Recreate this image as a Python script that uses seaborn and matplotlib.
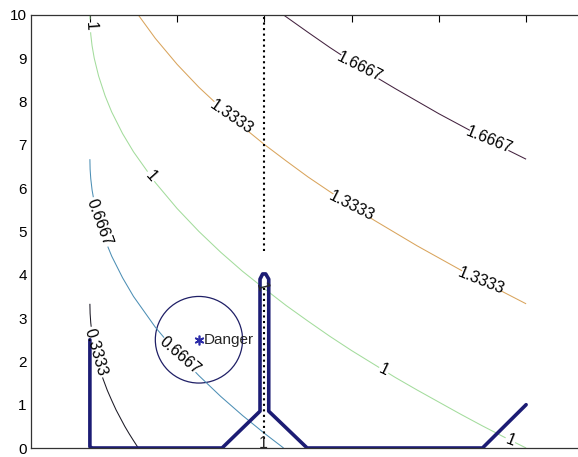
import numpy as np
import seaborn as sns
import matplotlib.pyplot as plt
from matplotlib.contour import ContourSet
from matplotlib.patches import Circle

# contour levels, labels and colours
levels = [0.3333, 0.6667, 1.0, 1.3333, 1.6667]
level_text = ["0.3333", "0.6667", "1", "1.3333", "1.6667"]
level_colors = ["#1c1a26", "#4d8fb5", "#a3dc9c", "#d9a45c", "#43223f"]

# contour lines
c0_x = [0, 0.005, 0.02, 0.05, 0.1, 0.2, 0.3, 0.4, 0.5, 0.6, 0.7, 0.8, 0.9, 1.0, 1.11]
c0_y = [3.33, 3.11, 2.89, 2.63, 2.33, 1.92, 1.60, 1.33, 1.10, 0.88, 0.69, 0.50, 0.33, 0.17, 0.0]
c1_x = [0, 0.005, 0.02, 0.05, 0.1, 0.2, 0.35, 0.5, 0.75, 1.0, 1.5, 2.0, 2.5, 3.0, 3.5, 4.0, 4.44]
c1_y = [6.67, 6.44, 6.22, 5.96, 5.67, 5.25, 4.80, 4.43, 3.93, 3.50, 2.79, 2.19, 1.67, 1.19, 0.75, 0.34, 0.0]
c2_x = [0, 0.005, 0.02, 0.05, 0.1, 0.2, 0.35, 0.5, 0.75, 1.0, 1.5, 2.0, 2.5, 3.0, 3.5, 4.0,
        4.5, 5.0, 5.5, 6.0, 6.5, 7.0, 7.5, 8.0, 8.5, 9.0, 9.5, 10.0]
c2_y = [10.0, 9.78, 9.55, 9.29, 9.0, 8.59, 8.13, 7.76, 7.26, 6.84, 6.13, 5.53, 5.0, 4.52, 4.08, 3.68,
        3.29, 2.93, 2.58, 2.25, 1.94, 1.63, 1.34, 1.06, 0.78, 0.51, 0.25, 0.0]
c3_x = [1.11, 1.5, 2.0, 2.5, 3.0, 3.5, 4.0, 4.5, 5.0, 5.5, 6.0, 6.5, 7.0, 7.5, 8.0, 8.5, 9.0, 9.5, 10.0]
c3_y = [10.0, 9.46, 8.86, 8.33, 7.86, 7.42, 7.01, 6.63, 6.26, 5.92, 5.59, 5.27, 4.97, 4.67, 4.39,
        4.11, 3.85, 3.59, 3.33]
c4_x = [4.44, 5.0, 5.5, 6.0, 6.5, 7.0, 7.5, 8.0, 8.5, 9.0, 9.5, 10.0]
c4_y = [10.0, 9.60, 9.25, 8.92, 8.60, 8.30, 8.01, 7.72, 7.45, 7.18, 6.92, 6.67]

# where the inline labels sit
label_pos = [(0.12, 2.2), (0.2, 5.2), (2.06, 2.15), (0.01, 9.75), (1.38, 6.25), (6.72, 1.75),
             (9.63, 0.15), (3.23, 7.62), (6.0, 5.57), (8.97, 3.85), (6.19, 8.8), (9.15, 7.1)]

# obstacle outline (thick) and wall (dotted)
obst_x = [0, 0, 0.05, 3.03, 3.9, 3.9, 3.96, 4.03, 4.1, 4.1, 4.98, 9.0, 10.0]
obst_y = [2.5, 0.03, 0, 0, 0.85, 3.9, 4.02, 4.02, 3.9, 0.85, 0, 0, 1.0]
wall_x = [4.0, 4.0]
wall_top_y = [4.55, 10.0]
wall_low_y = [0.2, 3.7]

danger_xy = (2.5, 2.5)
danger_r = 1.0

sns.set_style("white")
plt.rcParams["font.family"] = ["Liberation Sans", "DejaVu Sans"]

fig = plt.figure(figsize=(5.78, 4.57), dpi=100)
ax = fig.add_axes([31 / 578, 1 - 448 / 457, (585 - 31) / 578, (448 - 15) / 457])

segs = [[np.column_stack([cx, cy])] for cx, cy in
        [(c0_x, c0_y), (c1_x, c1_y), (c2_x, c2_y), (c3_x, c3_y), (c4_x, c4_y)]]
cs = ContourSet(ax, levels, segs, colors=level_colors, linewidths=0.75)
ax.clabel(cs, fmt=dict(zip(levels, level_text)), manual=label_pos, inline=True,
          inline_spacing=2, fontsize=11.5, colors="black")

sns.lineplot(x=obst_x, y=obst_y, sort=False, estimator=None, color="#1c1c74", lw=2.6, ax=ax)
sns.lineplot(x=wall_x, y=wall_top_y, sort=False, estimator=None, color="black", lw=1.5,
             linestyle=":", ax=ax)
sns.lineplot(x=wall_x, y=wall_low_y, sort=False, estimator=None, color="black", lw=1.5,
             linestyle=":", ax=ax)
ax.text(3.93, 3.72, "1", fontsize=11.5, rotation=-75, ha="center", va="center")
ax.text(3.98, 0.1, "1", fontsize=11.5, ha="center", va="center")

ax.add_patch(Circle(danger_xy, danger_r, fill=False, ec="#1f1f66", lw=0.9))
ax.plot(*danger_xy, marker=(6, 2, 0), ms=7, color="#2b2ba8", mew=1.2)
ax.text(danger_xy[0] + 0.1, danger_xy[1], "Danger", fontsize=11, ha="left", va="center")

ax.set_xlim(-1.35, 11.35)
ax.set_ylim(0, 10)
ax.set_xticks([0, 2, 4, 6, 8, 10])
ax.set_yticks(range(11))
ax.tick_params(direction="in", length=5, width=0.8, top=True, right=True, labelsize=11, pad=3,
               colors="black", labelbottom=False)
for sp in ax.spines.values():
    sp.set_color("#333333")
    sp.set_linewidth(0.9)

fig.savefig("out.png", dpi=100)
